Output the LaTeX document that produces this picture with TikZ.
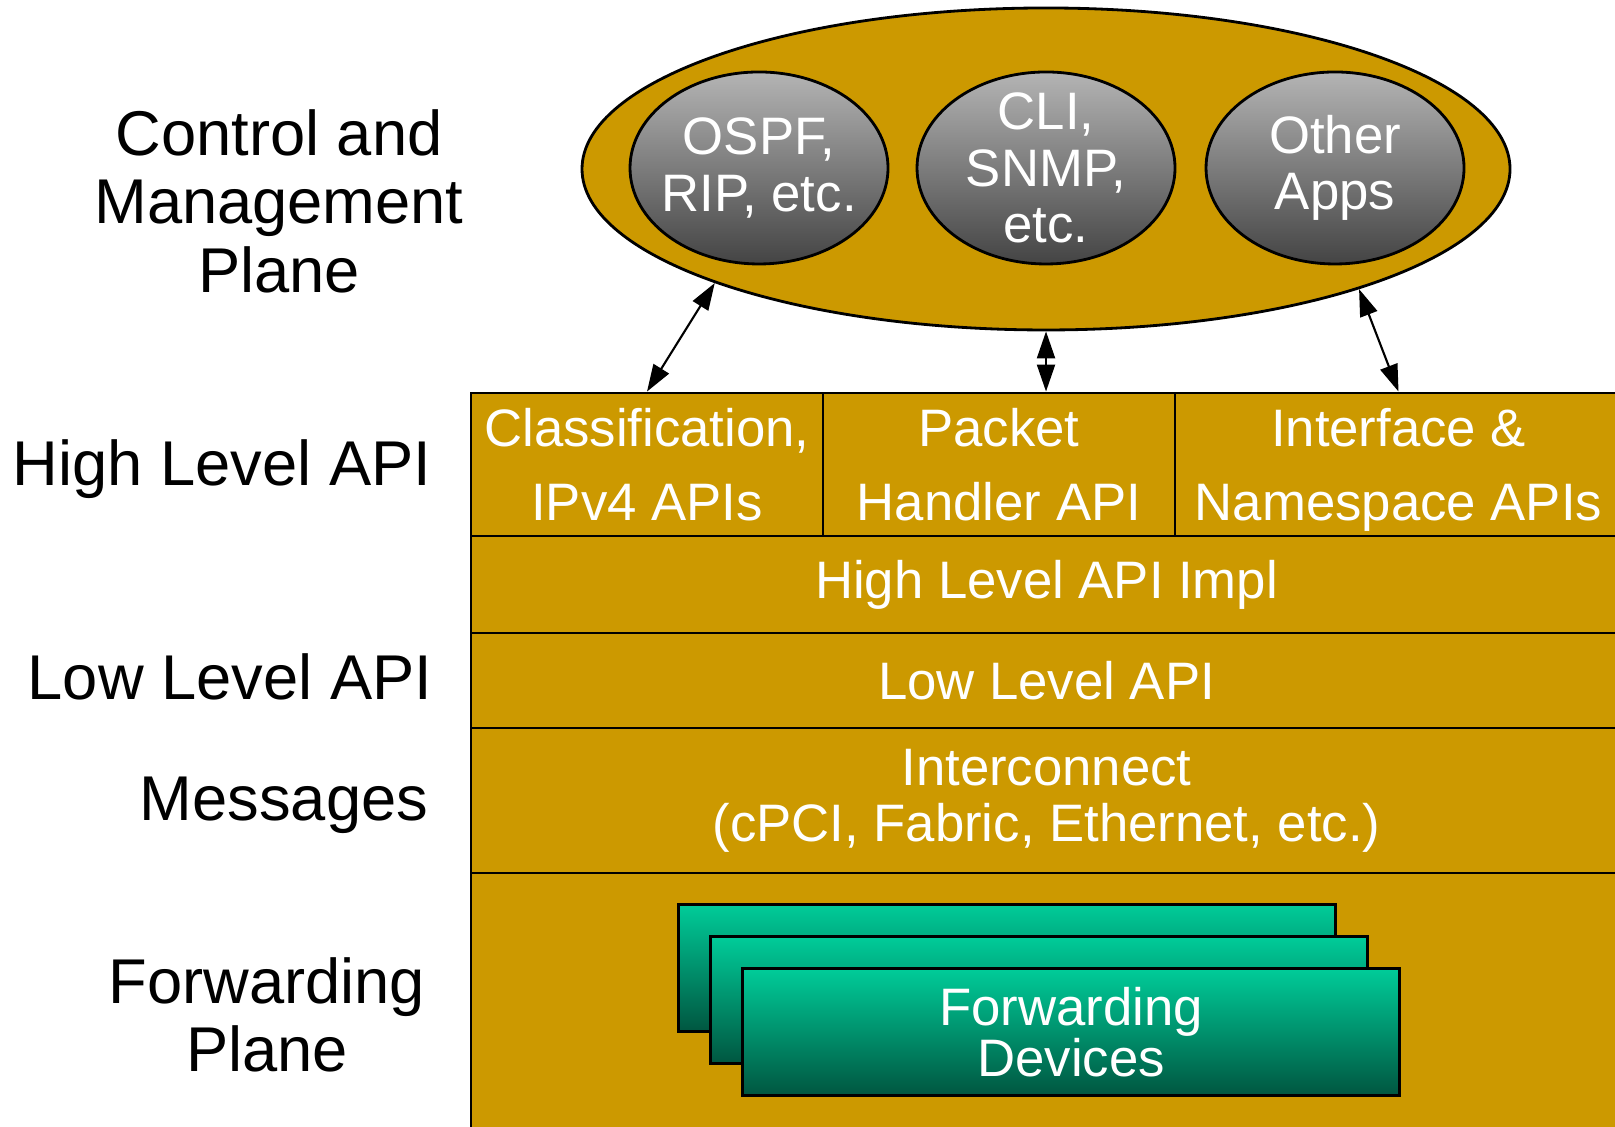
\documentclass[tikz,border=0pt]{standalone}
\usepackage{fontspec}
\setmainfont{Liberation Sans}
\usepackage{tikz}
\usetikzlibrary{shapes.geometric, arrows.meta}
\definecolor{gold}{RGB}{204,153,0}
\definecolor{apptop}{RGB}{180,180,180}
\definecolor{appbot}{RGB}{68,68,68}
\definecolor{seagreen}{RGB}{0,204,153}
\definecolor{deepgreen}{RGB}{0,86,64}

\begin{document}
\begin{tikzpicture}[thick,
    layer/.style={draw, fill=gold, text=white, rectangle, inner sep=0pt,
      align=center, font=\fontsize{15}{16}\selectfont},
    app/.style={draw, ellipse, top color=apptop, bottom color=appbot,
      text=white, minimum width=2.58cm, minimum height=1.92cm,
      inner sep=-12pt, align=center, font=\fontsize{15}{16}\selectfont},
    device/.style={draw, rectangle, top color=seagreen,
      bottom color=deepgreen, minimum width=6.57cm, minimum height=1.27cm},
    plane/.style={align=center, font=\fontsize{18}{19.5}\selectfont},
    link/.style={<->, >={Triangle[length=2.7mm, width=1.8mm]}, semithick}]
    \useasboundingbox (0,0) rectangle (16.15,11.27);
    \clip (0,0) rectangle (16.15,11.27);

    % control and management plane
    \node[draw, ellipse, fill=gold, minimum width=9.28cm,
          minimum height=3.22cm] (ctrl) at (10.46,9.58) {};
    \node[app] (ospf)  at (7.59,9.59)  {OSPF,\\RIP, etc.};
    \node[app] (cli)   at (10.46,9.59) {CLI,\\SNMP,\\etc.};
    \node[app] (other) at (13.35,9.59) {Other\\Apps};

    % high level api
    \node[layer, minimum width=3.52cm, minimum height=1.43cm,
          font=\fontsize{15}{21}\selectfont]
      (cls) at (6.47,6.625) {Classification,\\IPv4 APIs};
    \node[layer, minimum width=3.52cm, minimum height=1.43cm,
          font=\fontsize{15}{21}\selectfont]
      (pkt) at (9.99,6.625) {Packet\\Handler API};
    \node[layer, minimum width=4.47cm, minimum height=1.43cm,
          font=\fontsize{15}{21}\selectfont, text depth=0pt]
      (ifc) at (13.985,6.625) {Interface \&\\Namespace APIs};
    \node[layer, minimum width=11.51cm, minimum height=0.97cm]
      (hli) at (10.465,5.425) {High Level API Impl};

    % low level api and messages
    \node[layer, minimum width=11.51cm, minimum height=0.95cm]
      (lli) at (10.465,4.465) {Low Level API};
    \node[layer, minimum width=11.51cm, minimum height=1.45cm]
      (icn) at (10.465,3.265) {Interconnect\\(cPCI, Fabric, Ethernet, etc.)};

    % forwarding plane
    \node[layer, minimum width=11.51cm, minimum height=2.84cm]
      (fwd) at (10.465,1.12) {};
    \node[device] (devA) at (10.07,1.59) {};
    \node[device] (devB) at (10.39,1.27) {};
    \node[device, text=white, align=center,
          font=\fontsize{15}{14.5}\selectfont]
      (devC) at (10.71,0.95) {Forwarding\\Devices};

    % arrows
    \draw[link] (ctrl.199) -- (cls.north);
    \draw[link] (ctrl.south) -- (ctrl.south |- pkt.north);
    \draw[link] (ctrl.339.5) -- (ifc.north);

    % plane labels
    \node[plane] (lblctrl) at (2.79,9.26) {Control and\\Management\\Plane};
    \node[plane] (lblhigh) at (2.22,6.58) {High Level API};
    \node[plane] (lbllow)  at (2.30,4.50) {Low Level API};
    \node[plane] (lblmsg)  at (2.84,3.22) {Messages};
    \node[plane] (lblfwd)  at (2.67,1.12) {Forwarding\\Plane};
\end{tikzpicture}
\end{document}
